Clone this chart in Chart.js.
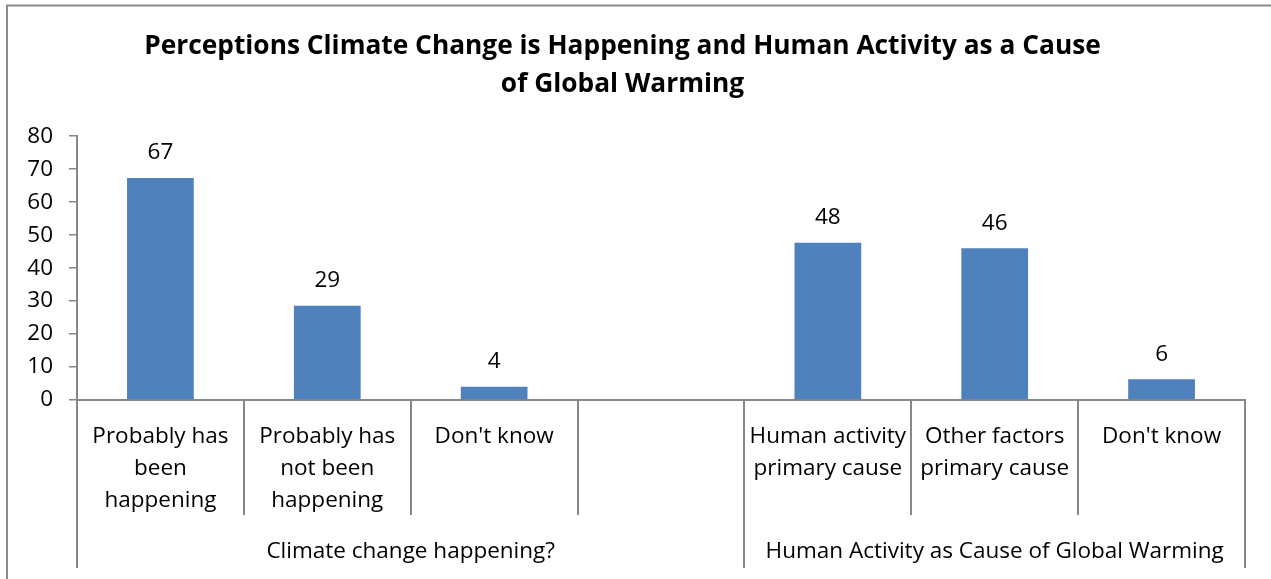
<!DOCTYPE html>
<html>
<head>
<meta charset="utf-8">
<script src="https://cdn.jsdelivr.net/npm/chart.js@4"></script>
<style>
  html, body { margin: 0; padding: 0; background: #fff; }
  #wrap { position: relative; width: 1271px; height: 579px; }
</style>
</head>
<body>
<div id="wrap"><canvas id="chart"></canvas></div>
<script>
// data
var categories = [
  ['Probably has', 'been', 'happening'],
  ['Probably has', 'not been', 'happening'],
  "Don't know",
  '',
  ['Human activity', 'primary cause'],
  ['Other factors', 'primary cause'],
  "Don't know"
];
var values = [67.3, 28.6, 4.0, null, 47.7, 46.0, 6.3];
var groupNames = ['Climate change happening?', 'Human Activity as Cause of Global Warming'];
var groupFirst = [0, 4];
var groupLast = [3, 6];
var titleLines = ['Perceptions Climate Change is Happening and Human Activity as a Cause', 'of Global Warming'];

var FONT = '"Open Sans"';
var axisGrey = '#868686';

// frame, value labels, category dividers and group labels
var extras = {
  id: 'extras',
  beforeDraw: function(chart) {
    var ctx = chart.ctx;
    ctx.save();
    ctx.strokeStyle = '#8c8c8c';
    ctx.lineWidth = 2;
    ctx.beginPath();
    ctx.moveTo(7, chart.height);
    ctx.lineTo(7, 5.5);
    ctx.lineTo(chart.width, 5.5);
    ctx.stroke();
    ctx.restore();
  },
  afterDraw: function(chart) {
    var ctx = chart.ctx;
    var x = chart.scales.x;
    var bottom = chart.chartArea.bottom;
    ctx.save();

    // value labels above the bars
    ctx.font = '22.5px ' + FONT;
    ctx.fillStyle = '#000';
    ctx.textAlign = 'center';
    ctx.textBaseline = 'middle';
    chart.getDatasetMeta(0).data.forEach(function(bar, i) {
      if (values[i] == null) return;
      ctx.fillText(String(Math.round(values[i])), bar.x, bar.y - 25);
    });

    // dividers between categories
    ctx.strokeStyle = axisGrey;
    ctx.lineWidth = 2;
    for (var i = 0; i <= categories.length; i++) {
      var px = Math.round(x.getPixelForValue(i - 0.5));
      var isGroupEdge = groupFirst.indexOf(i) >= 0 || i === categories.length;
      ctx.beginPath();
      ctx.moveTo(px, bottom);
      ctx.lineTo(px, isGroupEdge ? bottom + 168 : bottom + 115);
      ctx.stroke();
    }

    // group labels
    groupNames.forEach(function(name, g) {
      var a = x.getPixelForValue(groupFirst[g] - 0.5);
      var b = x.getPixelForValue(groupLast[g] + 0.5);
      ctx.fillText(name, (a + b) / 2, bottom + 152);
    });
    ctx.restore();
  }
};

new Chart(document.getElementById('chart'), {
  type: 'bar',
  data: {
    labels: categories,
    datasets: [{
      data: values,
      backgroundColor: '#4F81BD',
      barPercentage: 0.4,
      categoryPercentage: 1.0
    }]
  },
  options: {
    responsive: true,
    maintainAspectRatio: false,
    animation: false,
    layout: { padding: { left: 0, right: 26, top: 0, bottom: 0 } },
    plugins: {
      legend: { display: false },
      tooltip: { enabled: false },
      title: {
        display: true,
        text: titleLines,
        color: '#000',
        font: { family: FONT, size: 26.3, weight: 'bold', lineHeight: 1.43 },
        padding: { top: 28, bottom: 33 }
      }
    },
    scales: {
      x: {
        grid: { display: true, drawOnChartArea: false, drawTicks: false, color: 'rgba(0,0,0,0)' },
        border: { display: true, color: axisGrey, width: 2 },
        ticks: {
          color: '#000',
          font: { family: FONT, size: 22.5, lineHeight: '32px' },
          padding: 21,
          autoSkip: false,
          maxRotation: 0
        },
        afterFit: function(s) { s.height = 179; }
      },
      y: {
        min: 0,
        max: 80,
        ticks: {
          stepSize: 10,
          color: '#000',
          font: { family: FONT, size: 22.5 },
          padding: 16
        },
        grid: { drawOnChartArea: false, drawTicks: true, tickLength: 8, color: axisGrey, lineWidth: 1.5 },
        border: { display: true, color: axisGrey, width: 2 },
        afterFit: function(s) { s.width = 77; }
      }
    }
  },
  plugins: [extras]
});
</script>
</body>
</html>
